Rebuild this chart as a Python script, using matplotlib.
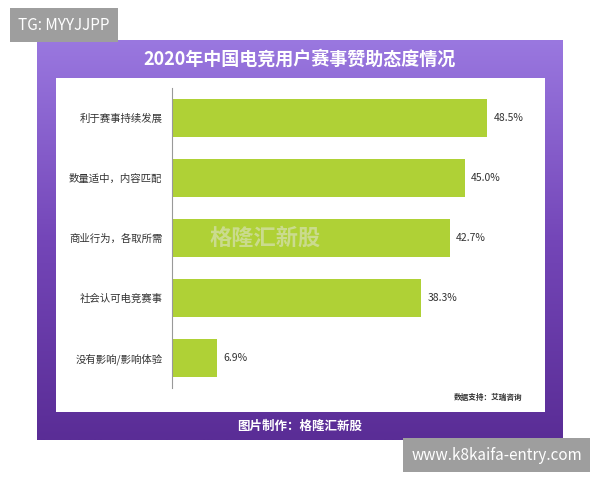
import matplotlib.pyplot as plt
import numpy as np
from matplotlib.patches import Rectangle
from matplotlib.colors import LinearSegmentedColormap

plt.rcParams['font.family'] = ['Noto Sans CJK SC', 'DejaVu Sans']

categories = ["利于赛事持续发展", "数量适中，内容匹配", "商业行为，各取所需", "社会认可电竞赛事", "没有影响/影响体验"]
values = [48.5, 45.0, 42.7, 38.3, 6.9]
title = "2020年中国电竞用户赛事赞助态度情况"

W, H = 600, 480
fig = plt.figure(figsize=(6, 4.8), dpi=100)
fig.patch.set_facecolor("white")

def fx(x): return x / W
def fy(y): return 1 - y / H

# purple gradient frame
bg = fig.add_axes([fx(37), fy(440), fx(563 - 37), (440 - 40) / H])
grad = np.linspace(0, 1, 256).reshape(-1, 1)
cmap = LinearSegmentedColormap.from_list("p", ["#9a78e0", "#7446b8", "#5a2d96"])
bg.imshow(grad, aspect="auto", cmap=cmap, extent=[0, 1, 0, 1])
bg.axis("off")

# white panel
fig.patches.append(Rectangle((fx(56), fy(412)), fx(545 - 56), (412 - 78) / H,
                             transform=fig.transFigure, facecolor="white", edgecolor="none", zorder=1))

fig.text(0.5, fy(59), title, color="white", fontsize=13, fontweight="bold", ha="center", va="center")
fig.text(0.5, fy(426), "图片制作：格隆汇新股", color="white", fontsize=9, fontweight="bold", ha="center", va="center")
fig.text(fx(522), fy(397), "数据支持：艾瑞咨询", color="#333333", fontsize=5.5, fontweight="bold", ha="right", va="center", zorder=3)

ax = fig.add_axes([fx(172), fy(388), fx(364), 300 / H], zorder=2)
ax.patch.set_alpha(0)
y = np.arange(len(values))
ax.barh(y, values, height=0.62, color="#afd136")
ax.set_xlim(0, 56)
ax.set_ylim(len(values) - 0.5, -0.5)
for i, v in enumerate(values):
    ax.text(v + 1, i, f"{v:.1f}%", va="center", ha="left", fontsize=7.5, color="#333333")
ax.set_yticks(y)
ax.set_yticklabels(categories, fontsize=7.5, color="#333333")
ax.tick_params(axis="y", length=0, pad=7)
ax.set_xticks([])
for s in ["top", "right", "bottom"]:
    ax.spines[s].set_visible(False)
ax.spines["left"].set_color("#999999")

# watermark text
fig.text(fx(265), fy(238), "格隆汇新股", color="#e6e6e6", fontsize=16, fontweight="bold",
         style="italic", ha="center", va="center", alpha=0.5, zorder=3)

# overlay labels
fig.text(fx(18), fy(25), "TG: MYYJJPP", color="white", fontsize=11, ha="left", va="center",
         bbox=dict(boxstyle="square,pad=0.55", facecolor="#9e9e9e", edgecolor="none"), zorder=5)
fig.text(fx(582), fy(455), "www.k8kaifa-entry.com", color="white", fontsize=11, ha="right", va="center",
         bbox=dict(boxstyle="square,pad=0.55", facecolor="#9e9e9e", edgecolor="none"), zorder=5)

fig.savefig("out.png", dpi=100)
